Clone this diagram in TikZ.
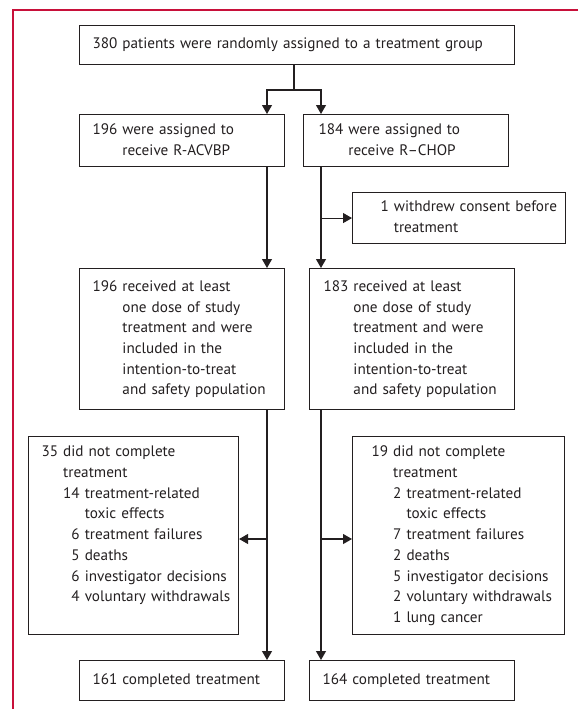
\documentclass[tikz,border=0pt]{standalone}
\usepackage{fontspec}
\setmainfont{PT Sans}
\usetikzlibrary{arrows.meta}
\definecolor{frame}{RGB}{200,16,58}
\definecolor{ink}{RGB}{35,31,32}
\tikzset{
  box/.style={draw=ink, line width=1.1pt, rectangle, anchor=north west, inner ysep=0pt, align=left, text=ink},
  bx/.style n args={3}{minimum width=#1pt, minimum height=#2pt, inner xsep=#3pt, text width=#1pt-2*#3pt},
  arr/.style={draw=ink, line width=1.1pt, -{Triangle[width=10pt,length=9pt]}},
  ln/.style={draw=ink, line width=1.1pt},
}
\begin{document}
\begin{tikzpicture}[x=1pt,y=-1pt, font=\fontsize{15.2}{20.7}\selectfont]
\useasboundingbox (0,0) rectangle (578,709);
\draw[frame, line width=1.2pt] (578,10) -- (13,10) -- (13,709);
\node[box, bx={435}{39}{13}] (top) at (79,25) {380 patients were randomly assigned to a treatment group};
\node[box, bx={205}{52}{13}] (a1) at (79,114) {\begin{tabular}{@{}l@{ }l@{}}196 & were assigned to\\ & receive R-ACVBP\end{tabular}};
\node[box, bx={205}{52}{15}] (a2) at (303,114) {\begin{tabular}{@{}l@{ }l@{}}184 & were assigned to\\ & receive R--CHOP\end{tabular}};
\node[box, bx={213}{51}{28}] (wd) at (352,192) {\begin{tabular}{@{}l@{ }l@{}}1 & withdrew consent before\\ & treatment\end{tabular}};
\node[box, bx={205}{141}{13}] (r1) at (79,268) {\begin{tabular}{@{}l@{ }l@{}}196 & received at least\\ & one dose of study\\ & treatment and were\\ & included in the\\ & intention-to-treat\\ & and safety population\end{tabular}};
\node[box, bx={205}{141}{14}] (r2) at (309,268) {\begin{tabular}{@{}l@{ }l@{}}183 & received at least\\ & one dose of study\\ & treatment and were\\ & included in the\\ & intention-to-treat\\ & and safety population\end{tabular}};
\node[box, bx={210}{198}{13}] (d1) at (28,436) {\begin{tabular}{@{}l@{ }r@{ }l@{}}35 & \multicolumn{2}{@{}l@{}}{did not complete}\\
 & \multicolumn{2}{@{}l@{}}{treatment}\\
 & 14 & treatment-related\\
 & & toxic effects\\
 & 6 & treatment failures\\
 & 5 & deaths\\
 & 6 & investigator decisions\\
 & 4 & voluntary withdrawals\\
 & & \end{tabular}};
\node[box, bx={212}{198}{19}] (d2) at (352,436) {\begin{tabular}{@{}l@{ }r@{ }l@{}}19 & \multicolumn{2}{@{}l@{}}{did not complete}\\
 & \multicolumn{2}{@{}l@{}}{treatment}\\
 & 2 & treatment-related\\
 & & toxic effects\\
 & 7 & treatment failures\\
 & 2 & deaths\\
 & 5 & investigator decisions\\
 & 2 & voluntary withdrawals\\
 & 1 & lung cancer\end{tabular}};
\node[box, bx={205}{40}{13}] (c1) at (79,660) {161 completed treatment};
\node[box, bx={205}{40}{13}] (c2) at (309,660) {164 completed treatment};
\coordinate (sp) at (294,90);
\coordinate (xL) at (267,0);
\coordinate (xR) at (321,0);
\coordinate (bL) at (267,539);
\coordinate (bR) at (321,539);
\draw[ln] (top.south -| sp) -- (sp);
\draw[arr] (sp) -| (a1.north -| xL);
\draw[arr] (sp) -| (a2.north -| xR);
\draw[arr] (a1.south -| xL) -- (r1.north -| xL);
\draw[arr] (a2.south -| xR) -- (r2.north -| xR);
\draw[arr] (wd.west -| xR) -- (wd.west);
\draw[arr] (r1.south -| xL) -- (c1.north -| xL);
\draw[arr] (r2.south -| xR) -- (c2.north -| xR);
\draw[arr] (bL) -- (bL -| d1.east);
\draw[arr] (bR) -- (bR -| d2.west);
\end{tikzpicture}
\end{document}
